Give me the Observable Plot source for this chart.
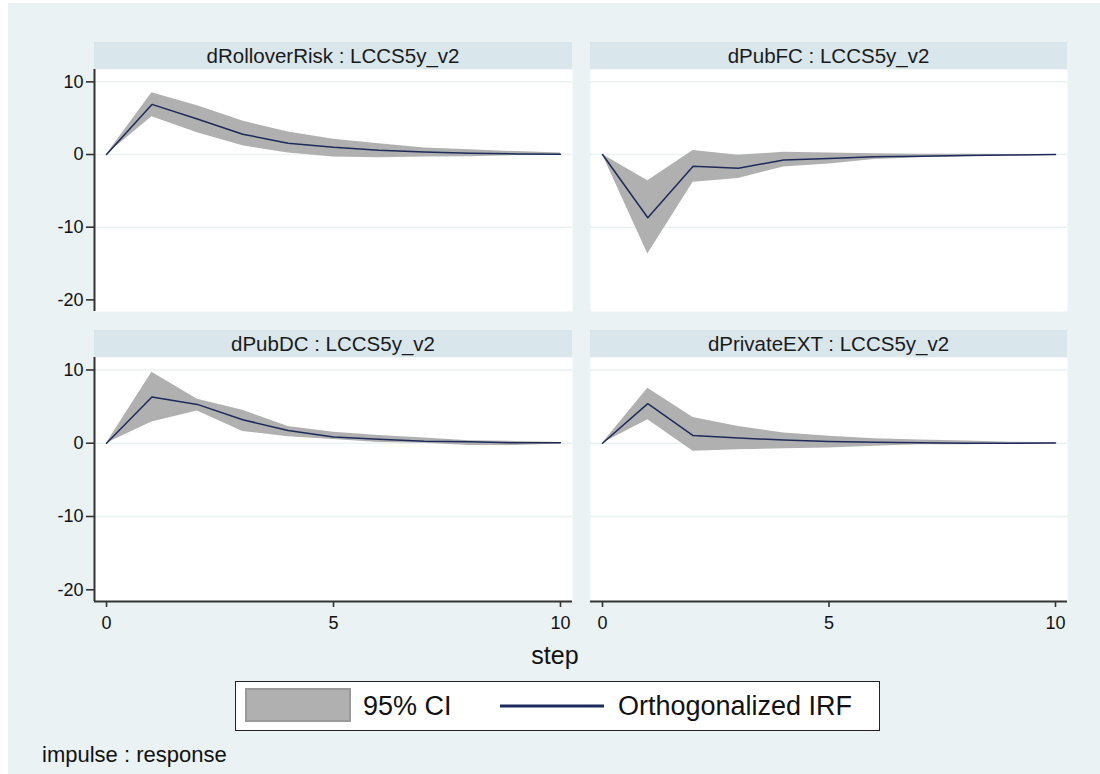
<!DOCTYPE html>
<html>
<head>
<meta charset="utf-8">
<script src="https://cdn.jsdelivr.net/npm/d3@7"></script>
<script src="https://cdn.jsdelivr.net/npm/@observablehq/plot@0.6"></script>
<style>
  html, body { margin: 0; padding: 0; background: #ffffff; }
  #root { position: relative; width: 1100px; height: 774px; overflow: hidden; background: #ffffff;
          font-family: "Liberation Sans", Arial, sans-serif; color: #111; }
  #bg { position: absolute; left: 8px; top: 3px; width: 1092px; height: 771px; background: #eaf2f3; }
  .strip { position: absolute; height: 27px; background: #d9e6eb; color: #1a1a1a;
           font-size: 20.5px; line-height: 27px; text-align: center; white-space: nowrap; }
  .panel { position: absolute; }
  .panel svg { overflow: visible; }
  #xtitle { position: absolute; left: 455px; width: 200px; top: 641px; text-align: center; font-size: 25px; color: #111; }
  #legend { position: absolute; left: 235px; top: 681px; width: 643px; height: 48px; background: #fff;
            border: 1.5px solid #222; }
  #note { position: absolute; left: 42px; top: 742px; font-size: 22px; color: #111; white-space: nowrap; }
</style>
</head>
<body>
<div id="root">
  <div id="bg"></div>
</div>
<script>
// ---- data ----
const steps = [0, 1, 2, 3, 4, 5, 6, 7, 8, 9, 10];
const panelTitles = [
  "dRolloverRisk : LCCS5y_v2",
  "dPubFC : LCCS5y_v2",
  "dPubDC : LCCS5y_v2",
  "dPrivateEXT : LCCS5y_v2"
];
// Orthogonalized IRF and 95% CI bounds per panel
const irfRollover = [0, 6.9, 4.9, 2.8, 1.55, 1.0, 0.6, 0.35, 0.18, 0.08, 0.04];
const loRollover  = [0, 5.2, 3.0, 1.2, 0.2, -0.35, -0.45, -0.35, -0.3, -0.15, -0.1];
const hiRollover  = [0, 8.5, 6.7, 4.6, 3.1, 2.1, 1.5, 0.9, 0.65, 0.4, 0.2];

const irfPubFC = [0, -8.7, -1.6, -1.9, -0.75, -0.55, -0.3, -0.22, -0.15, -0.08, 0];
const loPubFC  = [0, -13.7, -3.8, -3.3, -1.7, -1.3, -0.7, -0.45, -0.3, -0.15, -0.05];
const hiPubFC  = [0, -3.6, 0.55, -0.1, 0.3, 0.2, 0.1, 0.05, 0.03, 0.02, 0];

const irfPubDC = [0, 6.3, 5.3, 3.2, 1.75, 0.85, 0.55, 0.28, 0.2, 0.05, 0.05];
const loPubDC  = [0, 2.9, 4.4, 1.6, 0.9, 0.5, 0.1, 0.0, -0.3, -0.3, -0.1];
const hiPubDC  = [0, 9.7, 6.0, 4.5, 2.3, 1.5, 1.05, 0.7, 0.35, 0.25, 0.1];

const irfPrivExt = [0, 5.4, 1.05, 0.7, 0.45, 0.25, 0.15, 0.05, 0, 0, 0.02];
const loPrivExt  = [0, 3.2, -1.1, -0.9, -0.75, -0.65, -0.4, -0.2, -0.2, -0.1, -0.05];
const hiPrivExt  = [0, 7.5, 3.5, 2.3, 1.4, 0.95, 0.6, 0.45, 0.3, 0.15, 0.05];

const yTicks = [-20, -10, 0, 10];
const gridValues = [-10, 0, 10];
const xTicks = [0, 5, 10];
const legendLabels = ["95% CI", "Orthogonalized IRF"];
const xTitle = "step";
const note = "impulse : response";

// ---- build ----
const series = [
  [irfRollover, loRollover, hiRollover],
  [irfPubFC, loPubFC, hiPubFC],
  [irfPubDC, loPubDC, hiPubDC],
  [irfPrivExt, loPrivExt, hiPrivExt]
];
const tables = series.map(([irf, lo, hi]) => steps.map((s, i) => ({step: s, irf: irf[i], lo: lo[i], hi: hi[i]})));

const xDomain = [-0.265, 10.265];
const yDomain = [-21.6, 11.7];
const FONT = '"Liberation Sans", Arial, sans-serif';
const LINE = "#1c2b59";
const BAND = "#b0b0b0";

const layout = [
  {plotLeft: 94, plotRight: 572, top: 69, plotH: 242, stripTop: 42, showY: true, showX: false},
  {plotLeft: 590, plotRight: 1067, top: 69, plotH: 242, stripTop: 42, showY: false, showX: false},
  {plotLeft: 94, plotRight: 572, top: 357, plotH: 244, stripTop: 330, showY: true, showX: true},
  {plotLeft: 590, plotRight: 1067, top: 357, plotH: 244, stripTop: 330, showY: false, showX: true}
];

const root = document.getElementById("root");

layout.forEach((L, i) => {
  const strip = document.createElement("div");
  strip.className = "strip";
  strip.style.left = L.plotLeft + "px";
  strip.style.top = L.stripTop + "px";
  strip.style.width = (L.plotRight - L.plotLeft) + "px";
  strip.textContent = panelTitles[i];
  root.appendChild(strip);

  const mL = L.showY ? 64 : 0;
  const mB = L.showX ? 36 : 0;
  const marks = [
    Plot.frame({fill: "white", stroke: "none"}),
    Plot.ruleY(gridValues, {stroke: "#eaf2f3", strokeWidth: 1.5}),
    Plot.areaY(tables[i], {x: "step", y1: "lo", y2: "hi", fill: BAND}),
    Plot.lineY(tables[i], {x: "step", y: "irf", stroke: LINE, strokeWidth: 1.5})
  ];
  if (L.showY) {
    marks.push(Plot.axisY({ticks: yTicks, tickSize: 8, tickPadding: 3, tickFormat: d => String(d),
      label: null, fontSize: 18, stroke: "#333", strokeWidth: 1.6}));
    marks.push(Plot.ruleX([xDomain[0]], {stroke: "#333", strokeWidth: 2}));
  }
  if (L.showX) {
    marks.push(Plot.axisX({ticks: xTicks, tickSize: 6, tickPadding: 9, tickFormat: d => String(d),
      label: null, fontSize: 18, stroke: "#333", strokeWidth: 1.6}));
    marks.push(Plot.ruleY([yDomain[0]], {stroke: "#333", strokeWidth: 2}));
  }
  const chart = Plot.plot({
    width: (L.plotRight - L.plotLeft) + mL,
    height: L.plotH + mB,
    marginLeft: mL, marginRight: 0, marginTop: 0, marginBottom: mB,
    style: {background: "transparent", fontFamily: FONT, fontSize: "18px", color: "#111", overflow: "visible"},
    x: {domain: xDomain, axis: null},
    y: {domain: yDomain, axis: null},
    marks
  });
  const wrap = document.createElement("div");
  wrap.className = "panel";
  wrap.style.left = (L.plotLeft - mL) + "px";
  wrap.style.top = L.top + "px";
  wrap.appendChild(chart);
  root.appendChild(wrap);
});

// x title
const xt = document.createElement("div");
xt.id = "xtitle";
xt.textContent = xTitle;
root.appendChild(xt);

// legend
const leg = document.createElement("div");
leg.id = "legend";
leg.innerHTML = `
<svg width="643" height="48" style="position:absolute;left:0;top:0">
  <rect x="10" y="7" width="104" height="32" fill="${BAND}" stroke="#9a9a9a" stroke-width="2"/>
  <text x="127" y="33" font-family='${FONT}' font-size="27" fill="#111">${legendLabels[0]}</text>
  <line x1="264" x2="368" y1="24" y2="24" stroke="${LINE}" stroke-width="3"/>
  <text x="382" y="33" font-family='${FONT}' font-size="27" fill="#111">${legendLabels[1]}</text>
</svg>`;
root.appendChild(leg);

const nt = document.createElement("div");
nt.id = "note";
nt.textContent = note;
root.appendChild(nt);
</script>
</body>
</html>
